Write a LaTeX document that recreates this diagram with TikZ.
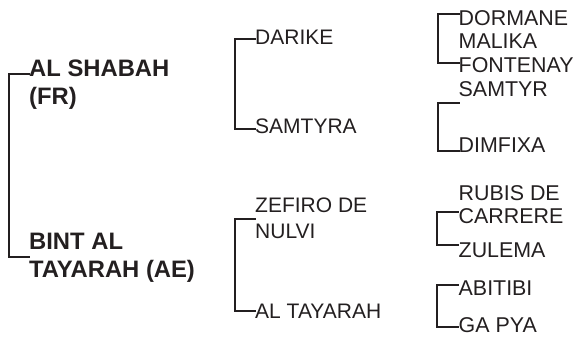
\documentclass[tikz,border=0pt]{standalone}
\usepackage{fontspec}
\setmainfont{Liberation Sans}
\definecolor{ink}{RGB}{35,31,32}
\begin{document}
\begin{tikzpicture}[x=1pt,y=-1pt,
  bracket/.style={draw=ink,line width=1.9pt,line cap=rect},
  lone/.style={anchor=base west,inner sep=0pt,text=ink,align=left,
    font=\bfseries\fontsize{23.8}{28}\selectfont},
  ltwo/.style={anchor=base west,inner sep=0pt,text=ink,align=left,
    font=\fontsize{21}{26}\selectfont},
  lthree/.style={anchor=base west,inner sep=0pt,text=ink,align=left,
    font=\fontsize{21.4}{23.5}\selectfont}]
\useasboundingbox (0,0) rectangle (576,343);
% level 1 (anchor = baseline of last line)
\node[lone] (s) at (29,104) {AL SHABAH\\(FR)};
\node[lone] (d) at (29,277) {BINT AL\\TAYARAH (AE)};
% level 2
\node[ltwo] (ss) at (255,44) {DARIKE};
\node[ltwo] (sd) at (255,133) {SAMTYRA};
\node[ltwo] (ds) at (255,238) {ZEFIRO DE\\NULVI};
\node[ltwo] (dd) at (255,318) {AL TAYARAH};
% level 3
\node[lthree] (sss) at (458.5,72) {DORMANE\\MALIKA\\FONTENAY};
\node[lthree] (ssd) at (458.5,96) {SAMTYR};
\node[lthree] (sdd) at (458.5,152) {DIMFIXA};
\node[lthree] (dss) at (458.5,223.5) {RUBIS DE\\CARRERE};
\node[lthree] (dsd) at (458.5,257) {ZULEMA};
\node[lthree] (dds) at (458.5,295) {ABITIBI};
\node[lthree] (ddd) at (458.5,332) {GA PYA};
% bracket end points
\coordinate (a1) at (29,74);   \coordinate (a2) at (29,257);
\coordinate (b1) at (255,39);  \coordinate (b2) at (255,129);
\coordinate (c1) at (255,219); \coordinate (c2) at (255,311);
\coordinate (e1) at (459,14);  \coordinate (e2) at (459,63);
\coordinate (f1) at (459,103); \coordinate (f2) at (459,151);
\coordinate (g1) at (458,212); \coordinate (g2) at (458,245);
\coordinate (h1) at (458,285); \coordinate (h2) at (458,327);
\draw[bracket] (a1) -- ++(-20,0) |- (a2);
\draw[bracket] (b1) -- ++(-20,0) |- (b2);
\draw[bracket] (c1) -- ++(-20,0) |- (c2);
\draw[bracket] (e1) -- ++(-21,0) |- (e2);
\draw[bracket] (f1) -- ++(-21,0) |- (f2);
\draw[bracket] (g1) -- ++(-21,0) |- (g2);
\draw[bracket] (h1) -- ++(-21,0) |- (h2);
\end{tikzpicture}
\end{document}
